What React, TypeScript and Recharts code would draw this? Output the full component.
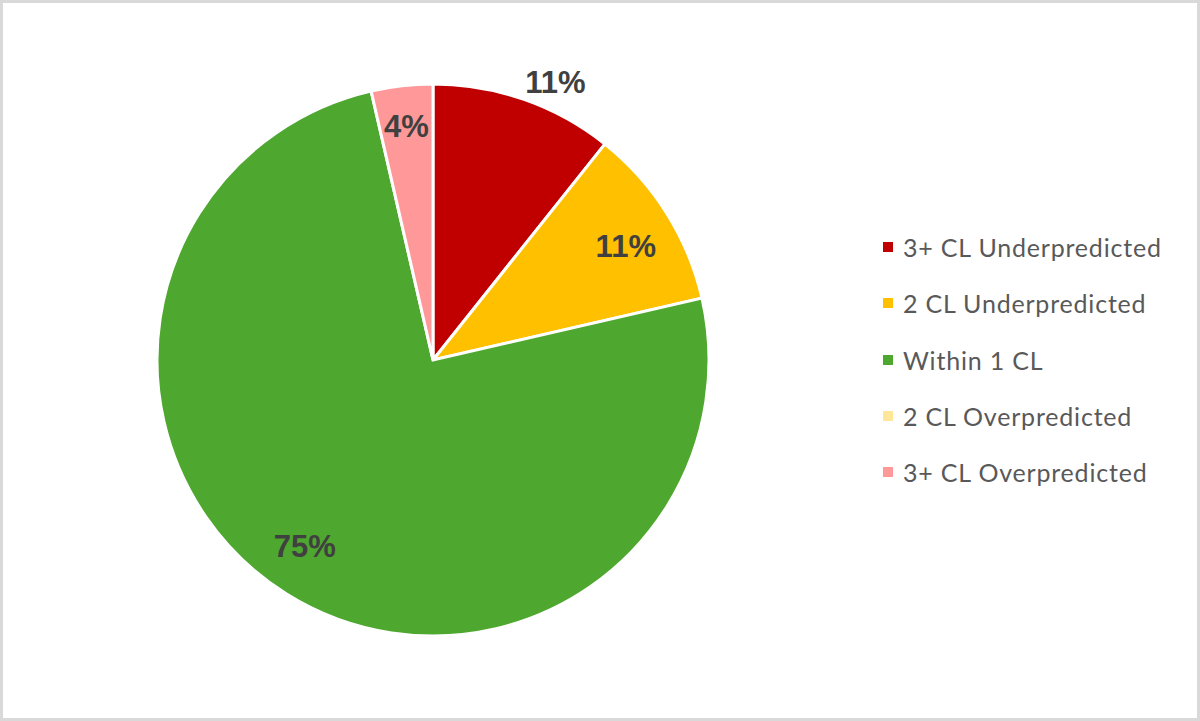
import React from 'react';
import { PieChart, Pie, Cell, Legend } from 'recharts';

// Share of cases by prediction error class
const categories = [
  '3+ CL Underpredicted',
  '2 CL Underpredicted',
  'Within 1 CL',
  '2 CL Overpredicted',
  '3+ CL Overpredicted',
];
const shares = [10.7, 10.7, 75.0, 0, 3.6];
const colors = ['#C00000', '#FFC000', '#4EA72E', '#FFE699', '#FF9999'];

// label placement tweaks (radius factor, angle shift in degrees), like Excel's best fit
const labelRadius = [1.1, 0.81, 0.82, 0.8, 0.85];
const labelShift = [-4.5, -1.8, -2.5, 0, 0];

const chartData = categories.map((name, i) => ({ name, value: shares[i] }));

const RAD = Math.PI / 180;

const renderLabel = (props: any) => {
  const { cx, cy, midAngle, outerRadius, index, value } = props;
  if (!value) return null;
  const r = outerRadius * labelRadius[index];
  const a = (midAngle + labelShift[index]) * RAD;
  const x = cx + r * Math.cos(-a);
  const y = cy + r * Math.sin(-a);
  return (
    <text
      x={x}
      y={y}
      fill="#404040"
      fontSize={31}
      fontWeight="bold"
      fontFamily="'Liberation Sans', Arial, sans-serif"
      textAnchor="middle"
      dominantBaseline="central"
    >
      {`${Math.round(value)}%`}
    </text>
  );
};

const renderLegend = () => (
  <div style={{ fontFamily: 'Lato, sans-serif', fontSize: 25, letterSpacing: 0.8, color: '#595959' }}>
    {categories.map((name, i) => (
      <div key={name} style={{ display: 'flex', alignItems: 'center', height: 56.3 }}>
        <span
          style={{ width: 10, height: 10, background: colors[i], display: 'inline-block', marginRight: 10 }}
        />
        <span>{name}</span>
      </div>
    ))}
  </div>
);

export default function App() {
  return (
    <div
      style={{
        position: 'absolute',
        left: 0,
        top: 0,
        width: 1200,
        height: 721,
        boxSizing: 'border-box',
        border: '3px solid #D9D9D9',
        background: '#fff',
      }}
    >
      <PieChart width={1194} height={715} style={{ position: 'absolute', left: 0, top: 0 }}>
        <Pie
          data={chartData}
          dataKey="value"
          nameKey="name"
          cx={425}
          cy={352}
          outerRadius={276}
          startAngle={90}
          endAngle={-270}
          stroke="#fff"
          strokeWidth={3}
          label={renderLabel}
          labelLine={false}
          isAnimationActive={false}
        >
          {chartData.map((d, i) => (
            <Cell key={d.name} fill={colors[i]} />
          ))}
        </Pie>
        <Legend
          layout="vertical"
          align="right"
          verticalAlign="top"
          content={renderLegend}
          wrapperStyle={{ left: 880, top: 216, width: 310 }}
        />
      </PieChart>
    </div>
  );
}
